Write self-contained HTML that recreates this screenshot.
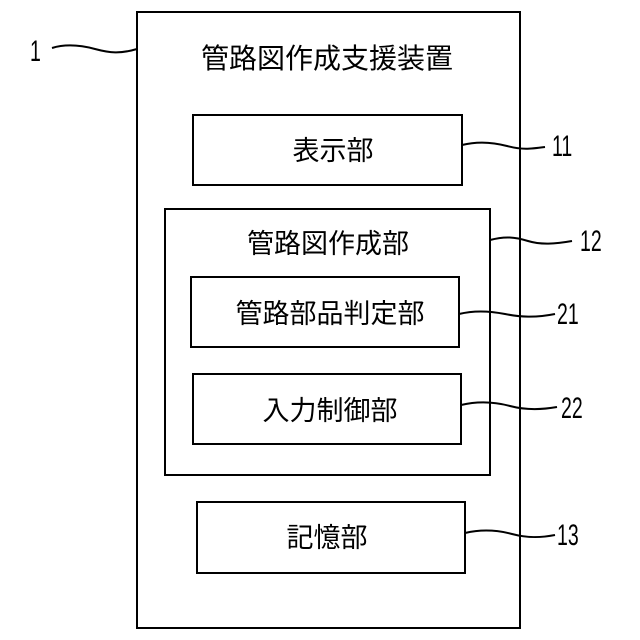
<!DOCTYPE html>
<html><head><meta charset="utf-8"><style>
body{margin:0;background:#fff}
svg{display:block}
text{font-family:"Liberation Sans","Noto Sans CJK JP",sans-serif;fill:#000}
.j{font-size:27px;font-family:"Noto Sans CJK JP",sans-serif}
.n{font-size:30px}
</style></head><body>
<svg width="640" height="640" viewBox="0 0 640 640" xmlns="http://www.w3.org/2000/svg">
<g fill="none" stroke="#000" stroke-width="2">
<rect x="137" y="12" width="383" height="616"/>
<rect x="193" y="115" width="269" height="70"/>
<rect x="165" y="209" width="325" height="266"/>
<rect x="191" y="277" width="268" height="70"/>
<rect x="193" y="374" width="268" height="70"/>
<rect x="197" y="502" width="268" height="71"/>
<path d="M52 48 C65 44,80 45,95 49 S120 54,137 49"/>
<path d="M462 145 C478 141,492 142,507 146 S530 149,545 147"/>
<path d="M490 240 C505 236,515 237,528 241 S555 244,572 241"/>
<path d="M459 314 C475 310,490 311,505 314 S535 318,555 314"/>
<path d="M461 405 C478 401,495 402,510 406 S540 410,557 407"/>
<path d="M465 533 C482 529,497 530,512 534 S540 538,555 535"/>
</g>
<text x="327" y="68" class="j" text-anchor="middle" style="font-size:28px">管路図作成支援装置</text>
<text x="333" y="160" class="j" text-anchor="middle">表示部</text>
<text x="328" y="253" class="j" text-anchor="middle">管路図作成部</text>
<text x="330" y="323" class="j" text-anchor="middle">管路部品判定部</text>
<text x="330" y="420" class="j" text-anchor="middle">入力制御部</text>
<text x="327" y="547" class="j" text-anchor="middle">記憶部</text>
<g class="n">
<text x="30" y="61" transform="translate(30 0) scale(0.65 1) translate(-30 0)">1</text>
<text x="552" y="156" transform="translate(552 0) scale(0.65 1) translate(-552 0)">11</text>
<text x="580" y="251" transform="translate(580 0) scale(0.65 1) translate(-580 0)">12</text>
<text x="557" y="324" transform="translate(557 0) scale(0.65 1) translate(-557 0)">21</text>
<text x="561" y="418" transform="translate(561 0) scale(0.65 1) translate(-561 0)">22</text>
<text x="557" y="545" transform="translate(557 0) scale(0.65 1) translate(-557 0)">13</text>
</g>
</svg>
</body></html>
